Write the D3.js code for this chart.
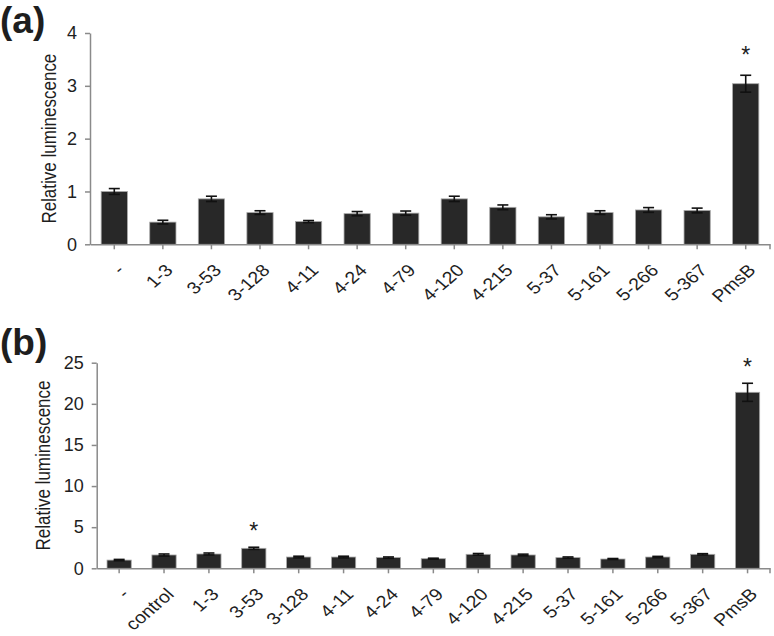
<!DOCTYPE html>
<html>
<head>
<meta charset="utf-8">
<script src="https://cdn.jsdelivr.net/npm/d3@7"></script>
<style>
  body { margin: 0; background: #fff; }
  text { font-family: "Liberation Sans", Arial, sans-serif; fill: #1e1e1e; }
</style>
</head>
<body>
<div id="chart"></div>
<script>
// data (mean relative luminescence + error)
var catsA = ["-", "1-3", "3-53", "3-128", "4-11", "4-24", "4-79", "4-120", "4-215", "5-37", "5-161", "5-266", "5-367", "PmsB"];
var valsA = [1.0, 0.42, 0.86, 0.60, 0.43, 0.58, 0.59, 0.86, 0.70, 0.52, 0.60, 0.65, 0.64, 3.04];
var errsA = [0.055, 0.035, 0.05, 0.035, 0.02, 0.04, 0.04, 0.05, 0.045, 0.04, 0.035, 0.045, 0.045, 0.16];
var sigA  = [0, 0, 0, 0, 0, 0, 0, 0, 0, 0, 0, 0, 0, 1];
var ticksA = [0, 1, 2, 3, 4];

var catsB = ["-", "control", "1-3", "3-53", "3-128", "4-11", "4-24", "4-79", "4-120", "4-215", "5-37", "5-161", "5-266", "5-367", "PmsB"];
var valsB = [1.0, 1.62, 1.74, 2.43, 1.37, 1.37, 1.30, 1.17, 1.70, 1.62, 1.30, 1.13, 1.37, 1.70, 21.4];
var errsB = [0.08, 0.12, 0.12, 0.13, 0.1, 0.1, 0.08, 0.06, 0.1, 0.1, 0.08, 0.06, 0.08, 0.08, 1.1];
var sigB  = [0, 0, 0, 1, 0, 0, 0, 0, 0, 0, 0, 0, 0, 0, 1];
var ticksB = [0, 5, 10, 15, 20, 25];

var W = 774, H = 636;
var axisCol = "#8a8a8a";

var svg = d3.select("#chart").append("svg")
    .attr("width", W)
    .attr("height", H);

function drawPanel(o) {
  var x = d3.scaleBand().domain(o.cats).range([o.left, o.right])
      .paddingInner(0.46).paddingOuter(0.23);
  var y = d3.scaleLinear().domain([0, d3.max(o.ticks)]).range([o.bottom, o.top]);

  var g = svg.append("g");

  // panel letter
  g.append("text")
    .attr("x", 0).attr("y", o.letterY)
    .style("font-size", "37px").style("font-weight", "bold")
    .text(o.letter);

  // y axis
  var ya = g.append("g")
    .attr("transform", "translate(" + o.left + ",0)")
    .call(d3.axisLeft(y).tickValues(o.ticks).tickFormat(d3.format("d"))
      .tickSize(5).tickSizeOuter(0).tickPadding(8));
  ya.selectAll("text").style("font-size", "18px")
    .style("font-family", "Liberation Sans, Arial, sans-serif").attr("fill", "#1e1e1e");
  ya.selectAll(".domain, .tick line").attr("stroke", axisCol).attr("stroke-width", 1.5);

  // title is a bit wide in the original, so stretch it across
  g.append("text")
    .attr("transform", "translate(" + o.titleX + "," + ((o.top + o.bottom) / 2) + ") rotate(-90) scale(1,1.18)")
    .attr("text-anchor", "middle")
    .style("font-size", "17px")
    .text("Relative luminescence");

  // bars
  var data = o.cats.map(function(c, i) { return {c: c, v: o.vals[i], e: o.errs[i], s: o.sig[i]}; });

  g.selectAll("rect.bar").data(data).enter().append("rect")
    .attr("class", "bar")
    .attr("x", function(d) { return x(d.c); })
    .attr("width", x.bandwidth())
    .attr("y", function(d) { return y(d.v); })
    .attr("height", function(d) { return y(0) - y(d.v); })
    .attr("fill", "#282828")
    .attr("stroke", "#a8a8a8")
    .attr("stroke-width", 0.8);

  // error bars
  var eb = g.selectAll("g.err").data(data).enter().append("g").attr("class", "err")
    .attr("stroke", "#111").attr("stroke-width", 1.6);
  eb.append("line")
    .attr("x1", function(d) { return x(d.c) + x.bandwidth() / 2; })
    .attr("x2", function(d) { return x(d.c) + x.bandwidth() / 2; })
    .attr("y1", function(d) { return y(d.v - d.e); })
    .attr("y2", function(d) { return y(d.v + d.e); });
  eb.selectAll("line.cap").data(function(d) { return [[d, d.v + d.e], [d, d.v - d.e]]; })
    .enter().append("line").attr("class", "cap")
    .attr("x1", function(p) { return x(p[0].c) + x.bandwidth() / 2 - 5.5; })
    .attr("x2", function(p) { return x(p[0].c) + x.bandwidth() / 2 + 5.5; })
    .attr("y1", function(p) { return y(p[1]); })
    .attr("y2", function(p) { return y(p[1]); });

  // significance stars
  g.selectAll("text.star").data(data.filter(function(d) { return d.s; })).enter().append("text")
    .attr("class", "star")
    .attr("x", function(d) { return x(d.c) + x.bandwidth() / 2; })
    .attr("y", function(d) { return y(d.v + d.e) - o.starGap; })
    .attr("text-anchor", "middle")
    .style("font-size", "23px")
    .text("*");

  // x axis, ticks under the bars
  var xa = g.append("g")
    .attr("transform", "translate(0," + o.bottom + ")")
    .call(d3.axisBottom(x).tickSize(5).tickSizeOuter(0));
  // labels slanted, stretched sideways like the source image
  xa.selectAll("text")
    .attr("y", 0).attr("dy", 0)
    .attr("text-anchor", "end")
    .attr("transform", "translate(11,27) scale(1.15,1) rotate(-45)")
    .style("font-size", "17px")
    .style("font-family", "Liberation Sans, Arial, sans-serif")
    .attr("fill", "#1e1e1e");
  xa.append("line").attr("class", "endtick")
    .attr("x1", o.right).attr("x2", o.right)
    .attr("y1", 0).attr("y2", 5);
  xa.selectAll(".domain, .tick line, .endtick").attr("stroke", axisCol).attr("stroke-width", 1.5);
}

drawPanel({cats: catsA, vals: valsA, errs: errsA, sig: sigA, ticks: ticksA,
           left: 90, right: 770, top: 33, bottom: 244.3,
           titleX: 56, letter: "(a)", letterY: 33, starGap: 12});

drawPanel({cats: catsB, vals: valsB, errs: errsB, sig: sigB, ticks: ticksB,
           left: 96.7, right: 770, top: 362.7, bottom: 568.3,
           titleX: 50, letter: "(b)", letterY: 355, starGap: 8});
</script>
</body>
</html>
